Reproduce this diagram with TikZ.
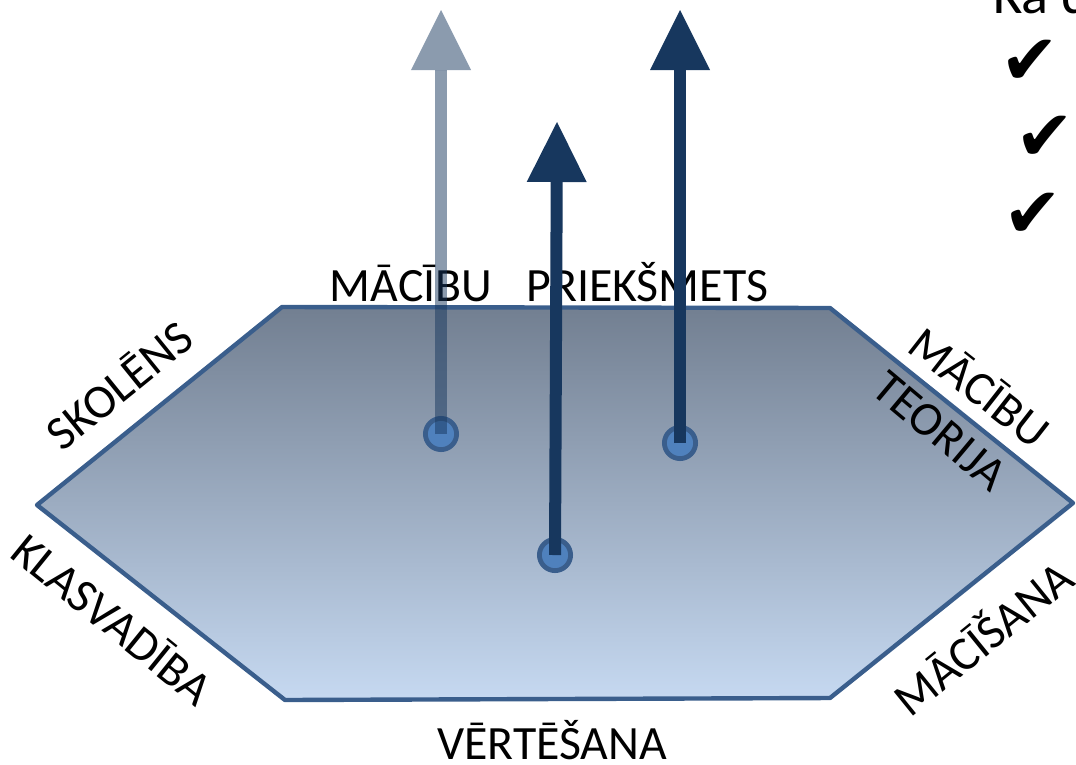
\documentclass[tikz,border=0pt]{standalone}
\usepackage{fontspec}
\setmainfont{Carlito}
\newfontfamily\checkfont{DejaVu Sans}
\usetikzlibrary{arrows.meta}
\definecolor{hexline}{RGB}{58,94,140}
\definecolor{hextop}{RGB}{114,127,145}
\definecolor{hexbot}{RGB}{198,217,241}
\definecolor{navy}{RGB}{23,55,94}
\definecolor{dotfill}{RGB}{79,129,189}
\tikzset{
  lbl/.style={font=\fontsize{34}{40}\selectfont,inner sep=0pt,text height=21.9pt,text depth=0pt},
  dot/.style={circle,draw=hexline,fill=dotfill,line width=0.12cm,minimum size=0.78cm,inner sep=0pt},
  vec/.style={navy,line width=0.3cm,-{Triangle[width=1.5cm,length=1.5cm,line width=0pt]}},
  tick/.style={font=\checkfont\fontsize{50}{56}\selectfont,inner sep=0pt}
}
\begin{document}
\begin{tikzpicture}[x=0.025cm,y=-0.025cm]
\useasboundingbox (0,0) rectangle (1076,764);
\clip (0,0) rectangle (1076,764);
\draw[hexline,line width=0.11cm,line join=round,top color=hextop,bottom color=hexbot]
  (282,307) -- (830,308) -- (1073,503) -- (830,698) -- (285,700) -- (37,505) -- cycle;

\node[lbl] (subj) at (549,286) {MĀCĪBU\hspace{0.85cm}PRIEKŠMETS};
\node[lbl,rotate=39] (pupil) at (120,386) {SKOLĒNS};
\node[lbl,rotate=-39] (class) at (112,620) {KLASVADĪBA};
\node[lbl,rotate=-38] (theo1) at (979,388) {MĀCĪBU};
\node[lbl,rotate=-40] (theo2) at (940,431) {TEORIJA};
\node[lbl,rotate=39] (teach) at (984,639) {MĀCĪŠANA};
\node[lbl] (assess) at (552,744) {VĒRTĒŠANA};

\node[font=\fontsize{40}{48}\selectfont,inner sep=0pt,anchor=base west] (head) at (993,13) {Ka d};
\node[tick] (t1) at (1030,62) {✔};
\node[tick] (t2) at (1045,138) {✔};
\node[tick] (t3) at (1033,215) {✔};

\node[dot] (d1) at (441,434) {};
\node[dot] (d2) at (680,443) {};
\node[dot] (d3) at (555,555) {};
\coordinate (a1) at (441,10);
\coordinate (a2) at (680,10);
\coordinate (a3) at (557,122);

\draw[vec,opacity=0.5] (d1.center) -- (a1);
\draw[vec] (d2.center) -- (a2);
\draw[vec] (d3.center) -- (a3);
\end{tikzpicture}
\end{document}
